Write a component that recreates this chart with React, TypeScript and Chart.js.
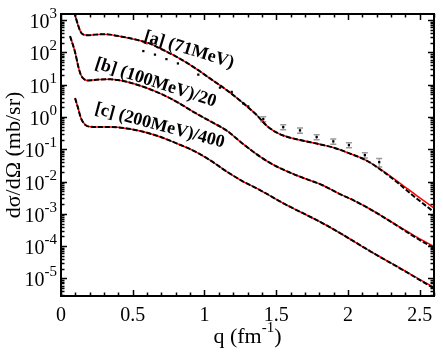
import React, { useEffect, useRef } from 'react';
import { Chart, registerables } from 'chart.js';
Chart.register(...registerables);

// ---------- data ----------
const qA = [0.063, 0.098, 0.119, 0.136, 0.153, 0.188, 0.237, 0.293, 0.342, 0.390, 0.460, 0.530, 0.620, 0.690, 0.806, 0.922, 1.038, 1.155, 1.270, 1.364, 1.433, 1.491, 1.549, 1.666, 1.782, 1.898, 2.014, 2.130, 2.246, 2.362, 2.479, 2.600];
const redA = [4800, 1430, 700, 440, 361, 338, 356, 366, 356, 327, 287, 245, 187, 133, 73.1, 35.8, 15.7, 6.81, 2.69, 1.15, 0.542, 0.353, 0.266, 0.193, 0.150, 0.113, 0.0736, 0.0447, 0.0211, 0.0090, 0.00369, 0.00151];
const blackA = [4800, 1430, 700, 440, 361, 338, 356, 366, 356, 327, 287, 245, 187, 133, 73.1, 35.8, 15.7, 6.81, 2.69, 1.15, 0.542, 0.353, 0.266, 0.193, 0.150, 0.113, 0.0736, 0.0447, 0.0204, 0.00807, 0.00298, 0.00114];

const qB = [0.063, 0.077, 0.098, 0.121, 0.139, 0.155, 0.181, 0.225, 0.272, 0.342, 0.397, 0.458, 0.574, 0.690, 0.806, 0.922, 1.038, 1.155, 1.270, 1.387, 1.491, 1.596, 1.700, 1.805, 1.944, 2.049, 2.153, 2.258, 2.362, 2.467, 2.600];
const redB = [320, 208, 102, 35.8, 19.8, 15.7, 13.6, 13.9, 14.6, 14.7, 13.9, 12.3, 8.61, 5.38, 2.96, 1.45, 0.746, 0.379, 0.145, 0.0594, 0.0313, 0.019, 0.0124, 0.00837, 0.0041, 0.00249, 0.00141, 0.000741, 0.00039, 0.000205, 0.000097];
const blackB = [320, 208, 102, 35.8, 19.8, 15.7, 13.6, 13.9, 14.6, 14.7, 13.9, 12.3, 8.61, 5.38, 2.96, 1.45, 0.746, 0.379, 0.145, 0.0594, 0.0313, 0.019, 0.0124, 0.00837, 0.0041, 0.00249, 0.00141, 0.000741, 0.00038, 0.00019, 0.000087];

const qC = [0.098, 0.119, 0.139, 0.167, 0.202, 0.272, 0.342, 0.458, 0.574, 0.690, 0.806, 0.922, 1.038, 1.155, 1.270, 1.387, 1.547, 1.666, 1.782, 1.944, 2.153, 2.362, 2.502, 2.600];
const redC = [3.85, 1.89, 0.925, 0.582, 0.498, 0.487, 0.487, 0.443, 0.348, 0.244, 0.152, 0.0912, 0.0463, 0.0204, 0.0100, 0.00546, 0.00216, 0.00116, 0.000643, 0.000255, 0.0000705, 0.000021, 0.0000092, 0.0000052];
const blackC = [3.85, 1.89, 0.925, 0.582, 0.498, 0.487, 0.487, 0.443, 0.348, 0.244, 0.152, 0.0912, 0.0463, 0.0204, 0.0100, 0.00546, 0.00216, 0.00116, 0.000643, 0.000255, 0.0000705, 0.0000205, 0.0000089, 0.0000049];

const expQ = [0.574, 0.655, 0.735, 0.815, 0.957, 1.108, 1.190, 1.270, 1.305, 1.410, 1.549, 1.666, 1.782, 1.898, 2.007, 2.118, 2.218];
const expV = [110, 85.5, 62, 45.6, 20.5, 8.1, 6.0, 2.64, 2.13, 0.86, 0.486, 0.385, 0.239, 0.176, 0.135, 0.066, 0.040];
const expErr = [2.2, 1.7, 1.2, 0.9, 0.4, 0.2, 0.15, 0.07, 0.06, 0.15, 0.087, 0.069, 0.043, 0.032, 0.024, 0.012, 0.012];

const xTicks = [0, 0.5, 1, 1.5, 2, 2.5];
const xTickLabels = ['0', '0.5', '1', '1.5', '2', '2.5'];
const yTicks = [1e-5, 1e-4, 1e-3, 1e-2, 1e-1, 1, 10, 100, 1000];
const yTickBase = '10';
const yTickExp = ['-5', '-4', '-3', '-2', '-1', '0', '1', '2', '3'];
const xTitleParts = ['q (fm', '-1', ')'];

const curveLabels = ['[a] (71MeV)', '[b] (100MeV)/20', '[c] (200MeV)/400'];
const labelQ = [0.571, 0.230, 0.230];
const labelV = [232, 33.8, 1.32];
const labelAngle = [17, 18, 15];

const X_MIN = 0, X_MAX = 2.6, Y_MIN = 2.85e-6, Y_MAX = 1550;
const SERIF = '"Liberation Serif", "Times New Roman", serif';

const toXY = (qs: number[], vs: number[]) => qs.map((q, i) => ({ x: q, y: vs[i] }));

const decorPlugin = {
  id: 'decor',
  beforeDatasetsDraw(chart: any) {
    const { ctx } = chart;
    const xs = chart.scales.x, ys = chart.scales.y;
    ctx.save();
    ctx.beginPath();
    ctx.rect(chart.chartArea.left, chart.chartArea.top, chart.chartArea.right - chart.chartArea.left, chart.chartArea.bottom - chart.chartArea.top);
    ctx.clip();
    for (let i = 0; i < expQ.length; i++) {
      const px = xs.getPixelForValue(expQ[i]);
      const y1 = ys.getPixelForValue(expV[i] + expErr[i]);
      const y2 = ys.getPixelForValue(expV[i] - expErr[i]);
      ctx.strokeStyle = '#8a8a8a';
      ctx.lineWidth = 1;
      ctx.beginPath();
      ctx.moveTo(px, y1); ctx.lineTo(px, y2);
      ctx.stroke();
      if (y2 - y1 > 3) {
        ctx.lineWidth = 1.5;
        ctx.strokeStyle = '#999';
        ctx.beginPath();
        ctx.moveTo(px - 3, y1); ctx.lineTo(px + 3, y1);
        ctx.moveTo(px - 3, y2); ctx.lineTo(px + 3, y2);
        ctx.stroke();
      }
    }
    ctx.restore();
  },
  afterDatasetsDraw(chart: any) {
    const { ctx, chartArea: a } = chart;
    const xs = chart.scales.x, ys = chart.scales.y;
    ctx.save();
    // curve labels
    ctx.fillStyle = '#000';
    ctx.font = `bold 18px ${SERIF}`;
    ctx.textAlign = 'left';
    ctx.textBaseline = 'alphabetic';
    for (let i = 0; i < curveLabels.length; i++) {
      const px = xs.getPixelForValue(labelQ[i]);
      const py = ys.getPixelForValue(labelV[i]);
      ctx.save();
      ctx.translate(px, py);
      ctx.rotate((labelAngle[i] * Math.PI) / 180);
      ctx.fillText(curveLabels[i], 0, 0);
      ctx.restore();
    }
    // y tick labels with superscript exponents
    for (let i = 0; i < yTicks.length; i++) {
      const py = ys.getPixelForValue(yTicks[i]);
      ctx.font = `15px ${SERIF}`;
      const ew = ctx.measureText(yTickExp[i]).width;
      const right = a.left - 4;
      ctx.textAlign = 'right';
      ctx.fillText(yTickExp[i], right, py - 2);
      ctx.font = `20px ${SERIF}`;
      ctx.fillText(yTickBase, right - ew, py + 8);
    }
    // x axis title with superscript
    {
      const big = `22px ${SERIF}`, small = `15px ${SERIF}`;
      ctx.font = big;
      const w0 = ctx.measureText(xTitleParts[0]).width;
      const w2 = ctx.measureText(xTitleParts[2]).width;
      ctx.font = small;
      const w1 = ctx.measureText(xTitleParts[1]).width;
      const total = w0 + w1 + w2;
      let x0 = (a.left + a.right) / 2 - total / 2;
      const base = 343;
      ctx.textAlign = 'left';
      ctx.font = big;
      ctx.fillText(xTitleParts[0], x0, base);
      ctx.font = small;
      ctx.fillText(xTitleParts[1], x0 + w0, base - 11);
      ctx.font = big;
      ctx.fillText(xTitleParts[2], x0 + w0 + w1, base);
    }
    // frame
    ctx.strokeStyle = '#000';
    ctx.lineWidth = 2;
    ctx.strokeRect(a.left, a.top, a.right - a.left, a.bottom - a.top);
    ctx.lineWidth = 1.5;
    ctx.beginPath();
    // x ticks (bottom and top)
    for (let k = 0; k <= 26; k++) {
      const v = k / 10;
      const px = Math.round(xs.getPixelForValue(v)) + 0.5;
      const len = k % 5 === 0 ? 6 : 3.5;
      ctx.moveTo(px, a.bottom); ctx.lineTo(px, a.bottom - len);
      ctx.moveTo(px, a.top); ctx.lineTo(px, a.top + len);
    }
    // y ticks (left and right)
    for (let e = -6; e <= 3; e++) {
      for (let m = 1; m <= 9; m++) {
        const v = m * Math.pow(10, e);
        if (v < Y_MIN || v > Y_MAX) continue;
        const py = Math.round(ys.getPixelForValue(v)) + 0.5;
        const len = m === 1 ? 6 : 3.5;
        ctx.moveTo(a.left, py); ctx.lineTo(a.left + len, py);
        ctx.moveTo(a.right, py); ctx.lineTo(a.right - len, py);
      }
    }
    ctx.stroke();
    ctx.restore();
  },
};

export default function App() {
  const ref = useRef<HTMLCanvasElement | null>(null);
  useEffect(() => {
    if (!ref.current) return;
    const lineCommon = { pointRadius: 0, tension: 0, cubicInterpolationMode: 'monotone' as const, fill: false };
    const chart = new Chart(ref.current, {
      type: 'line',
      data: {
        datasets: [
          { ...lineCommon, data: toXY(qA, blackA), borderColor: '#000', borderWidth: 2, borderDash: [5, 2], order: 1 },
          { ...lineCommon, data: toXY(qB, blackB), borderColor: '#000', borderWidth: 2, borderDash: [5, 2], order: 1 },
          { ...lineCommon, data: toXY(qC, blackC), borderColor: '#000', borderWidth: 2, borderDash: [5, 2], order: 1 },
          { ...lineCommon, data: toXY(qA, redA), borderColor: '#ff0000', borderWidth: 1.5, order: 2 },
          { ...lineCommon, data: toXY(qB, redB), borderColor: '#ff0000', borderWidth: 1.5, order: 2 },
          { ...lineCommon, data: toXY(qC, redC), borderColor: '#ff0000', borderWidth: 1.5, order: 2 },
          { data: toXY(expQ, expV), showLine: false, pointStyle: 'rect', pointRadius: 1.6, pointBackgroundColor: '#000', pointBorderColor: '#000', pointBorderWidth: 0, borderColor: '#000', order: 0 } as any,
        ],
      },
      options: {
        responsive: false,
        animation: false,
        devicePixelRatio: 1,
        layout: { padding: { top: 14, right: 9, left: 0, bottom: 0 } },
        plugins: { legend: { display: false }, tooltip: { enabled: false } },
        scales: {
          x: {
            type: 'linear',
            min: X_MIN,
            max: X_MAX,
            afterFit: (s: any) => { s.height = 58; },
            afterBuildTicks: (s: any) => { s.ticks = xTicks.map((v) => ({ value: v })); },
            ticks: {
              autoSkip: false,
              maxRotation: 0,
              padding: 8,
              color: '#000',
              font: { family: SERIF, size: 20 },
              callback: (_v: any, i: number) => xTickLabels[i],
            },
            grid: { display: false, drawTicks: false },
            border: { display: false },
            title: { display: false },
          },
          y: {
            type: 'logarithmic',
            min: Y_MIN,
            max: Y_MAX,
            afterFit: (s: any) => { s.width = 61; },
            afterBuildTicks: (s: any) => { s.ticks = yTicks.map((v) => ({ value: v })); },
            ticks: { display: false },
            grid: { display: false, drawTicks: false },
            border: { display: false },
            title: { display: true, text: 'dσ/dΩ (mb/sr)', color: '#000', font: { family: SERIF, size: 22 }, padding: { top: 1, bottom: 0 } },
          },
        },
      },
      plugins: [decorPlugin],
    } as any);
    return () => chart.destroy();
  }, []);
  return (
    <div style={{ position: 'absolute', left: 0, top: 0, width: 443, height: 354, background: '#fff' }}>
      <canvas ref={ref} width={443} height={354} />
    </div>
  );
}
